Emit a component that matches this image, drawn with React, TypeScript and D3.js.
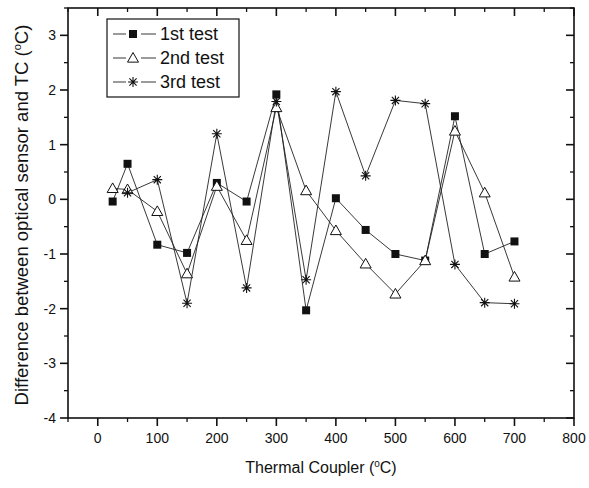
import * as d3 from "d3";

// temperatures read by the thermal coupler (°C)
const temps = [25, 50, 100, 150, 200, 250, 300, 350, 400, 450, 500, 550, 600, 650, 700];

// difference between optical sensor and TC (°C)
const test1 = [-0.04, 0.65, -0.83, -0.98, 0.3, -0.04, 1.92, -2.03, 0.02, -0.56, -1.0, -1.12, 1.52, -1.0, -0.77];
const test2 = [0.2, 0.18, -0.22, -1.36, 0.24, -0.75, 1.68, 0.16, -0.57, -1.18, -1.73, -1.12, 1.25, 0.12, -1.42];
const test3 = [null, 0.12, 0.36, -1.9, 1.2, -1.62, 1.79, -1.47, 1.97, 0.43, 1.81, 1.75, -1.19, -1.89, -1.91];

const seriesNames = ["1st test", "2nd test", "3rd test"];
const xTicks = [0, 100, 200, 300, 400, 500, 600, 700, 800];
const yTicks = [-4, -3, -2, -1, 0, 1, 2, 3];

type Pt = { x: number; y: number | null };

const W = 589;
const H = 488;
const box = { left: 68, right: 574, top: 8, bottom: 418 };
const ink = "#111";
const FONT = "'Liberation Sans', Arial, sans-serif";

function Marker({ kind, cx, cy }: { kind: number; cx: number; cy: number }) {
    if (kind === 0) {
        return <rect x={cx - 4} y={cy - 4} width={8} height={8} fill={ink} />;
    }
    if (kind === 1) {
        const r = 5.5;
        return (
            <path
                d={`M${cx},${cy - r} L${cx + r},${cy + r * 0.75} L${cx - r},${cy + r * 0.75} Z`}
                fill="white"
                stroke={ink}
                strokeWidth={1}
            />
        );
    }
    const r = 5;
    const d = r * 0.72;
    return (
        <path
            d={`M${cx},${cy - r}V${cy + r}M${cx - r},${cy}H${cx + r}M${cx - d},${cy - d}L${cx + d},${cy + d}M${cx - d},${cy + d}L${cx + d},${cy - d}`}
            stroke={ink}
            strokeWidth={1.1}
            fill="none"
        />
    );
}

export default function App() {
    const x = d3.scaleLinear().domain([-50, 800]).range([box.left, box.right]);
    const y = d3.scaleLinear().domain([-4, 3.5]).range([box.bottom, box.top]);

    const allSeries: Pt[][] = [test1, test2, test3].map((vals) =>
        temps.map((t, i) => ({ x: t, y: vals[i] }))
    );

    const line = d3
        .line<Pt>()
        .defined((d) => d.y !== null)
        .x((d) => x(d.x))
        .y((d) => y(d.y as number));

    const xMinor = d3.range(-50, 801, 50).filter((v) => v % 100 !== 0);
    const yMinor = d3.range(-3.5, 3.51, 1);

    const legendY = [34, 58, 82];

    return (
        <svg
            width={W}
            height={H}
            style={{ position: "absolute", left: 0, top: 0, background: "white" }}
            fontFamily={FONT}
        >
            {/* data lines */}
            {allSeries.map((s, i) => (
                <path key={"l" + i} d={line(s) || ""} fill="none" stroke="#222" strokeWidth={0.9} />
            ))}
            {/* markers */}
            {allSeries.map((s, i) =>
                s
                    .filter((d) => d.y !== null)
                    .map((d, j) => <Marker key={`m${i}-${j}`} kind={i} cx={x(d.x)} cy={y(d.y as number)} />)
            )}

            {/* frame */}
            <rect
                x={box.left}
                y={box.top}
                width={box.right - box.left}
                height={box.bottom - box.top}
                fill="none"
                stroke={ink}
                strokeWidth={1.6}
            />

            {/* bottom axis ticks (outward) and top ticks (inward) */}
            {xTicks.map((v) => (
                <g key={"xt" + v}>
                    <line x1={x(v)} x2={x(v)} y1={box.bottom} y2={box.bottom + 8} stroke={ink} strokeWidth={1.6} />
                    <line x1={x(v)} x2={x(v)} y1={box.top} y2={box.top + 8} stroke={ink} strokeWidth={1.6} />
                    <text x={x(v)} y={box.bottom + 25} textAnchor="middle" fontSize={14} fill={ink}>
                        {v}
                    </text>
                </g>
            ))}
            {xMinor.map((v) => (
                <g key={"xm" + v}>
                    <line x1={x(v)} x2={x(v)} y1={box.bottom} y2={box.bottom + 4} stroke={ink} strokeWidth={1.3} />
                    <line x1={x(v)} x2={x(v)} y1={box.top} y2={box.top + 4} stroke={ink} strokeWidth={1.3} />
                </g>
            ))}

            {/* left axis ticks (outward) and right ticks (inward) */}
            {yTicks.map((v) => (
                <g key={"yt" + v}>
                    <line x1={box.left - 8} x2={box.left} y1={y(v)} y2={y(v)} stroke={ink} strokeWidth={1.6} />
                    <line x1={box.right - 8} x2={box.right} y1={y(v)} y2={y(v)} stroke={ink} strokeWidth={1.6} />
                    <text x={box.left - 12} y={y(v) + 5} textAnchor="end" fontSize={14} fill={ink}>
                        {v}
                    </text>
                </g>
            ))}
            {yMinor.map((v) => (
                <g key={"ym" + v}>
                    <line x1={box.left - 4} x2={box.left} y1={y(v)} y2={y(v)} stroke={ink} strokeWidth={1.3} />
                    <line x1={box.right - 4} x2={box.right} y1={y(v)} y2={y(v)} stroke={ink} strokeWidth={1.3} />
                </g>
            ))}

            {/* axis titles */}
            <text x={(box.left + box.right) / 2} y={473} textAnchor="middle" fontSize={16} fill={ink}>
                Thermal Coupler (<tspan dy={-6} fontSize={10}>o</tspan>
                <tspan dy={6}>C)</tspan>
            </text>
            <text
                transform={`translate(28, ${(box.top + box.bottom) / 2 + 2}) rotate(-90)`}
                textAnchor="middle"
                fontSize={18.5}
                fill={ink}
            >
                Difference between optical sensor and TC (<tspan dy={-7} fontSize={11}>o</tspan>
                <tspan dy={7}>C)</tspan>
            </text>

            {/* legend */}
            <rect x={107} y={19} width={132} height={78} fill="white" stroke={ink} strokeWidth={1.2} />
            {seriesNames.map((name, i) => (
                <g key={"lg" + i}>
                    <line x1={113} x2={126} y1={legendY[i]} y2={legendY[i]} stroke="#222" strokeWidth={0.9} />
                    <line x1={141} x2={156} y1={legendY[i]} y2={legendY[i]} stroke="#222" strokeWidth={0.9} />
                    <Marker kind={i} cx={133} cy={legendY[i]} />
                    <text x={160} y={legendY[i] + 6} fontSize={18} fill={ink}>
                        {name}
                    </text>
                </g>
            ))}
        </svg>
    );
}
